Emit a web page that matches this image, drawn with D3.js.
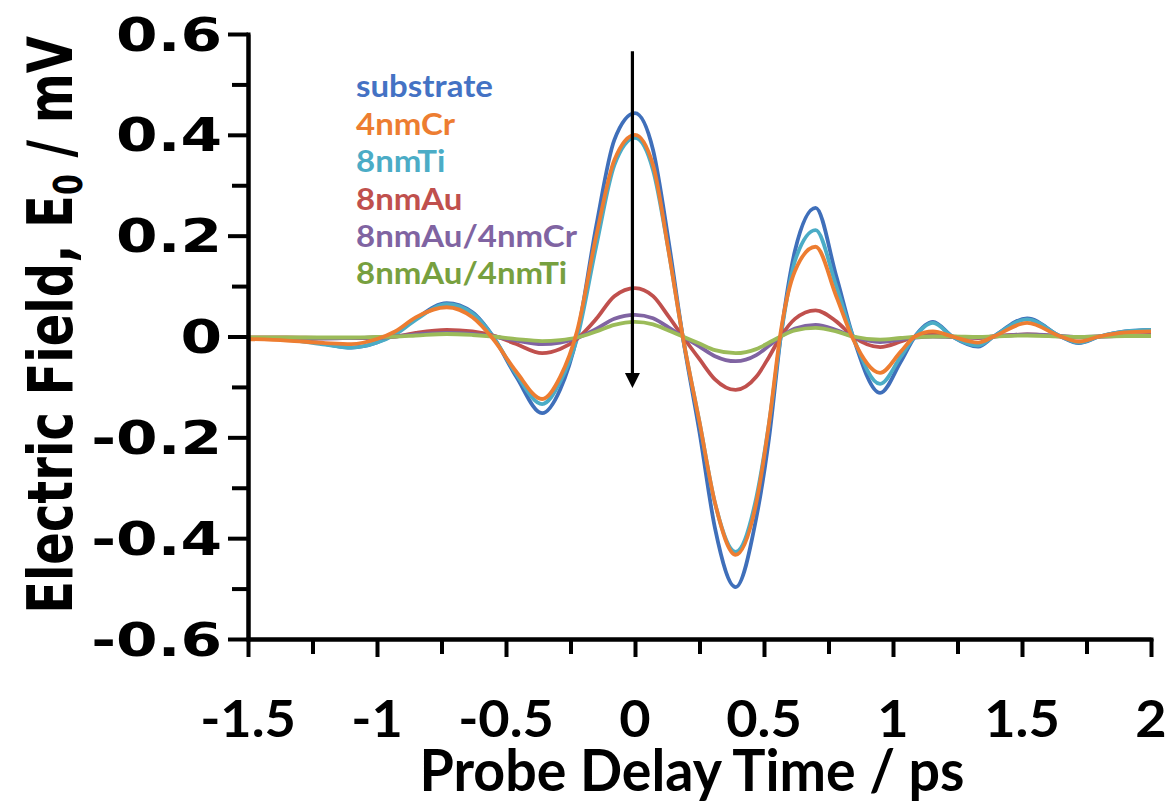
<!DOCTYPE html>
<html>
<head>
<meta charset="utf-8">
<script src="https://cdn.jsdelivr.net/npm/d3@7"></script>
<style>
  html, body { margin: 0; padding: 0; background: #ffffff; }
  svg { display: block; }
</style>
</head>
<body>
<svg id="chart" width="1172" height="812"></svg>
<script>
// ---------------- data ----------------
const delay = [-1.5, -1.35, -1.2, -1.1, -1.0, -0.93, -0.85, -0.73, -0.63, -0.55, -0.46, -0.36, -0.29, -0.225,
  -0.15, -0.08, 0, 0.07, 0.13, 0.185, 0.25, 0.31, 0.39, 0.47, 0.52, 0.565, 0.62, 0.70, 0.78, 0.845,
  0.95, 1.03, 1.085, 1.155, 1.23, 1.33, 1.39, 1.52, 1.65, 1.72, 1.80, 1.9, 2.0];

const substrate = [-0.003, -0.005, -0.015, -0.022, -0.012, 0.005, 0.035, 0.066, 0.048, 0.0, -0.08, -0.152, -0.105, 0.0,
  0.22, 0.39, 0.443, 0.37, 0.19, 0.0, -0.19, -0.38, -0.497, -0.36, -0.20, 0.0, 0.17, 0.255, 0.12, 0.0,
  -0.112, -0.05, 0.0, 0.029, 0.0, -0.02, 0.0, 0.036, 0.0, -0.013, 0.0, 0.01, 0.013];

const cr4 = [-0.005, -0.008, -0.013, -0.015, -0.005, 0.01, 0.038, 0.058, 0.038, -0.005, -0.07, -0.124, -0.08, 0.01,
  0.20, 0.35, 0.40, 0.34, 0.17, 0.0, -0.17, -0.33, -0.433, -0.33, -0.17, 0.01, 0.13, 0.178, 0.08, -0.005,
  -0.072, -0.03, 0.0, 0.01, 0.0, -0.012, 0.0, 0.027, 0.0, -0.01, 0.0, 0.008, 0.01];

const ti8 = [-0.003, -0.006, -0.016, -0.022, -0.012, 0.004, 0.033, 0.064, 0.046, 0.0, -0.075, -0.134, -0.09, -0.005,
  0.18, 0.34, 0.394, 0.33, 0.17, 0.0, -0.17, -0.33, -0.427, -0.32, -0.17, 0.0, 0.15, 0.211, 0.10, 0.0,
  -0.094, -0.04, 0.0, 0.027, 0.0, -0.018, 0.0, 0.034, 0.0, -0.012, 0.0, 0.01, 0.013];

const au8 = [-0.002, -0.002, -0.003, -0.003, -0.002, 0.0, 0.007, 0.013, 0.01, 0.002, -0.015, -0.033, -0.025, -0.005,
  0.035, 0.08, 0.096, 0.08, 0.04, 0.0, -0.045, -0.085, -0.106, -0.08, -0.04, 0.0, 0.035, 0.052, 0.03, 0.0,
  -0.021, -0.01, 0.0, 0.004, 0.0, -0.003, 0.0, 0.004, 0.0, -0.002, 0.0, 0.002, 0.003];

const au8cr4 = [-0.004, -0.004, -0.004, -0.003, -0.002, 0.0, 0.004, 0.007, 0.005, 0.0, -0.008, -0.015, -0.012, -0.003,
  0.015, 0.035, 0.043, 0.036, 0.018, 0.0, -0.02, -0.039, -0.049, -0.037, -0.018, 0.0, 0.016, 0.023, 0.013, 0.0,
  -0.011, -0.006, -0.002, 0.0, -0.001, -0.002, 0.0, 0.004, 0.001, -0.001, 0.0, 0.001, 0.002];

const au8ti4 = [-0.002, -0.002, -0.002, -0.002, -0.001, 0.0, 0.002, 0.005, 0.003, 0.0, -0.005, -0.009, -0.007, -0.002,
  0.01, 0.023, 0.029, 0.024, 0.012, 0.0, -0.014, -0.027, -0.033, -0.025, -0.012, 0.0, 0.012, 0.017, 0.01, 0.0,
  -0.006, -0.003, -0.001, 0.0, 0.0, -0.001, 0.0, 0.002, 0.0, -0.001, 0.0, 0.001, 0.001];

const seriesNames = ["substrate", "4nmCr", "8nmTi", "8nmAu", "8nmAu/4nmCr", "8nmAu/4nmTi"];
const seriesValues = [substrate, cr4, ti8, au8, au8cr4, au8ti4];

const xTickLabels = [-1.5, -1, -0.5, 0, 0.5, 1, 1.5, 2];
const xMinorTicks = [-1.25, -0.75, -0.25, 0.25, 0.75, 1.25, 1.75];
const yTickLabels = [0.6, 0.4, 0.2, 0, -0.2, -0.4, -0.6];
const yMinorTicks = [0.5, 0.3, 0.1, -0.1, -0.3, -0.5];

const arrowX = -0.01, arrowTop = 0.566, arrowTip = -0.102;

const xTitle = "Probe Delay Time / ps";
const yTitleMain = "Electric Field, E";
const yTitleSub = "0";
const yTitleEnd = " / mV";

// ---------------- styles ----------------
const colors = ["#3f6fba", "#ed7d31", "#4bacc6", "#c0504d", "#8064a2", "#9bbb59"];
const legendColors = ["#4472c4", "#ed7d31", "#4bacc6", "#c0504d", "#8064a2", "#77a03f"];
const drawOrder = [0, 2, 3, 4, 5, 1];

// ---------------- chart ----------------
const svg = d3.select("#chart");
const x = d3.scaleLinear().domain([-1.5, 2]).range([248, 1151]);
const y = d3.scaleLinear().domain([-0.6, 0.6]).range([639, 34]);

const line = d3.line()
  .x((d, i) => x(delay[i]))
  .y(d => y(d))
  .curve(d3.curveMonotoneX);

const gLines = svg.append("g");
drawOrder.forEach(k => {
  gLines.append("path")
    .attr("d", line(seriesValues[k]))
    .attr("fill", "none")
    .attr("stroke", colors[k])
    .attr("stroke-width", 3.8)
    .attr("stroke-linejoin", "round");
});

// axes
const axisW = 4;
function styleAxis(g) {
  g.selectAll("path.domain").attr("stroke", "#000").attr("stroke-width", axisW);
  g.selectAll("line").attr("stroke", "#000").attr("stroke-width", axisW);
}
const yAxisMinor = svg.append("g").attr("transform", `translate(${x(-1.5)},0)`)
  .call(d3.axisLeft(y).tickValues(yMinorTicks).tickSize(16).tickSizeOuter(0).tickFormat(""));
const yAxisMajor = svg.append("g").attr("transform", `translate(${x(-1.5)},0)`)
  .call(d3.axisLeft(y).tickValues(yTickLabels).tickSize(20).tickSizeOuter(0).tickFormat(""));
const xAxisMinor = svg.append("g").attr("transform", `translate(0,${y(-0.6)})`)
  .call(d3.axisBottom(x).tickValues(xMinorTicks).tickSize(15).tickSizeOuter(0).tickFormat(""));
const xAxisMajor = svg.append("g").attr("transform", `translate(0,${y(-0.6)})`)
  .call(d3.axisBottom(x).tickValues(xTickLabels).tickSize(18).tickSizeOuter(0).tickFormat(""));
[yAxisMinor, yAxisMajor, xAxisMinor, xAxisMajor].forEach(styleAxis);
[yAxisMinor, xAxisMinor].forEach(g => g.select("path.domain").attr("stroke-linecap", "square"));

// y tick labels
yTickLabels.forEach(v => {
  svg.append("g").attr("transform", `translate(222,${y(v)}) scale(1.3,1)`)
    .append("text")
    .attr("text-anchor", "end")
    .attr("dy", "0.36em")
    .attr("font-family", "DejaVu Sans")
    .attr("font-weight", "bold")
    .attr("font-size", 46)
    .attr("fill", "#000")
    .text(v === 0 ? "0" : String(v));
});

// x tick labels
xTickLabels.forEach(v => {
  svg.append("g").attr("transform", `translate(${x(v)},737) scale(1.04,1)`)
    .append("text")
    .attr("text-anchor", "middle")
    .attr("font-family", "Lato")
    .attr("font-weight", "bold")
    .attr("font-size", 52)
    .attr("fill", "#000")
    .text(String(v));
});

// x title
{
  const g = svg.append("g");
  const t = g.append("text")
    .attr("text-anchor", "middle")
    .attr("font-family", "Lato")
    .attr("font-weight", "bold")
    .attr("font-size", 57)
    .attr("fill", "#000")
    .text(xTitle);
  const w = t.node().getComputedTextLength();
  g.attr("transform", `translate(692,791) scale(${545 / w},1)`);
}

// y title
{
  const g = svg.append("g").attr("transform", "translate(72,325) rotate(-90) scale(1,1.3)");
  const t = g.append("text")
    .attr("text-anchor", "middle")
    .attr("font-family", "DejaVu Sans")
    .attr("font-weight", "bold")
    .attr("font-size", 48)
    .attr("fill", "#000");
  t.append("tspan").text(yTitleMain);
  t.append("tspan").attr("font-size", 30).attr("dy", 8).text(yTitleSub);
  t.append("tspan").attr("dy", -8).text(yTitleEnd);
}

// legend
{
  const baselines = [97, 135, 172, 210, 247, 284];
  const texts = seriesNames.map((name, i) =>
    svg.append("g").attr("transform", `translate(356,${baselines[i]})`)
      .append("text")
      .attr("font-family", "Lato")
      .attr("font-weight", "bold")
      .attr("font-size", 31)
      .attr("fill", legendColors[i])
      .text(name));
  const w = texts[4].node().getComputedTextLength();
  const sx = 221 / w;
  texts.forEach((t, i) => d3.select(t.node().parentNode)
    .attr("transform", `translate(356,${baselines[i]}) scale(${sx},1)`));
}

// arrow
{
  const ax = x(arrowX);
  const yTop = y(arrowTop), yTip = y(arrowTip);
  svg.append("line")
    .attr("x1", ax).attr("x2", ax)
    .attr("y1", yTop).attr("y2", yTip - 10)
    .attr("stroke", "#000").attr("stroke-width", 3.2);
  svg.append("path")
    .attr("d", `M${ax - 7.5},${yTip - 15} L${ax + 7.5},${yTip - 15} L${ax},${yTip} Z`)
    .attr("fill", "#000");
}
</script>
</body>
</html>
